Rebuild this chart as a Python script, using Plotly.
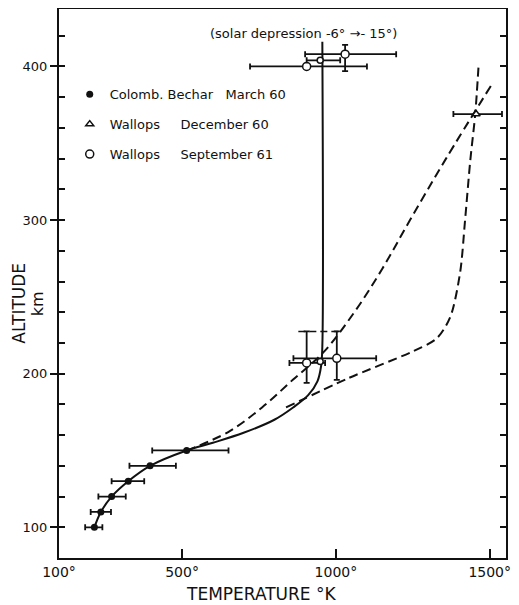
import plotly.graph_objects as go

# ---------------- data ----------------
# Colomb. Bechar, March 60 (filled circles)
cb_alt = [100, 110, 120, 130, 140, 150]
cb_temp = [215, 236, 271, 325, 396, 515]
cb_temp_lo = [185, 203, 228, 271, 329, 403]
cb_temp_hi = [241, 269, 317, 377, 480, 651]

# Wallops, September 61 (open circles)
ws_temp = [905, 1003, 905, 1030]
ws_alt = [207, 210, 400, 408]
ws_temp_lo = [849, 862, 721, 900]
ws_temp_hi = [965, 1131, 1101, 1196]
ws_alt_lo = [194, 196, 400, 397]
ws_alt_hi = [227.5, 227.5, 400, 414]

# small points lying on the model curve
sm_temp = [949, 949]
sm_alt = [208, 404]
sm_temp_lo = [949, 905]
sm_temp_hi = [949, 1014]

# Wallops, December 60 (triangle)
wd_temp = [1456]
wd_alt = [369]
wd_temp_lo = [1382]
wd_temp_hi = [1540]

# dashed link of the upper error caps near 200 km
cap_temp = [878, 1014]
cap_alt = [227.5, 227.5]

# solid model curve (solar depression -6 -> -15)
solid_temp = [215, 236, 271, 325, 396, 515, 600, 700, 800, 861, 910, 940, 952, 956, 956]
solid_alt = [100, 110, 120, 130, 140, 150, 155, 161.5, 170, 178, 186, 195, 205, 218, 416]

# dashed curve A (diagonal)
dashA_temp = [515, 650, 760, 860, 960, 1060, 1150, 1241, 1358, 1509]
dashA_alt = [150, 162, 178, 196, 214, 240, 268, 300, 340, 389]

# dashed curve B (kinked)
dashB_temp = [838, 1040, 1250, 1328, 1372, 1404, 1420, 1437, 1453, 1464]
dashB_alt = [178, 197, 214.5, 223, 237, 266, 300, 339, 369, 401]

x_ticks = [100, 500, 1000, 1500]
x_ticktext = ["100°", "500°", "1000°", "1500°"]
y_ticks = [100, 200, 300, 400]
y_minor = list(range(80, 441, 20))

FONT = "DejaVu Sans"
BLACK = "#111111"


def diff(a, b):
    return [x - y for x, y in zip(a, b)]


fig = go.Figure()

fig.add_trace(go.Scatter(x=solid_temp, y=solid_alt, mode="lines",
                         line=dict(color=BLACK, width=2, shape="spline", smoothing=1.0),
                         showlegend=False, hoverinfo="skip"))
fig.add_trace(go.Scatter(x=dashA_temp, y=dashA_alt, mode="lines",
                         line=dict(color=BLACK, width=2, dash="9px,5px", shape="spline", smoothing=1.0),
                         showlegend=False, hoverinfo="skip"))
fig.add_trace(go.Scatter(x=dashB_temp, y=dashB_alt, mode="lines",
                         line=dict(color=BLACK, width=2, dash="9px,5px", shape="spline", smoothing=0.8),
                         showlegend=False, hoverinfo="skip"))
fig.add_trace(go.Scatter(x=cap_temp, y=cap_alt, mode="lines",
                         line=dict(color=BLACK, width=1.5, dash="7px,4px"),
                         showlegend=False, hoverinfo="skip"))

errstyle = dict(color=BLACK, thickness=1.8, width=3)

fig.add_trace(go.Scatter(
    x=cb_temp, y=cb_alt, mode="markers", name="Colomb. Bechar\u00a0\u00a0\u00a0March 60",
    legendgroup="a",
    marker=dict(symbol="circle", size=7, color=BLACK),
    error_x=dict(type="data", symmetric=False, array=diff(cb_temp_hi, cb_temp),
                 arrayminus=diff(cb_temp, cb_temp_lo), **errstyle)))

fig.add_trace(go.Scatter(
    x=wd_temp, y=wd_alt, mode="markers", name="Wallops\u00a0\u00a0\u00a0\u00a0\u00a0December 60",
    legendgroup="b",
    marker=dict(symbol="triangle-up", size=7, color="white", line=dict(color=BLACK, width=1.5)),
    error_x=dict(type="data", symmetric=False, array=diff(wd_temp_hi, wd_temp),
                 arrayminus=diff(wd_temp, wd_temp_lo), **errstyle)))

fig.add_trace(go.Scatter(
    x=ws_temp, y=ws_alt, mode="markers", name="Wallops\u00a0\u00a0\u00a0\u00a0\u00a0September 61",
    legendgroup="c",
    marker=dict(symbol="circle", size=8, color="white", line=dict(color=BLACK, width=1.5)),
    error_x=dict(type="data", symmetric=False, array=diff(ws_temp_hi, ws_temp),
                 arrayminus=diff(ws_temp, ws_temp_lo), **errstyle),
    error_y=dict(type="data", symmetric=False, array=diff(ws_alt_hi, ws_alt),
                 arrayminus=diff(ws_alt, ws_alt_lo), **errstyle)))

fig.add_trace(go.Scatter(
    x=sm_temp, y=sm_alt, mode="markers", showlegend=False,
    marker=dict(symbol="circle", size=6, color="white", line=dict(color=BLACK, width=1.5)),
    error_x=dict(type="data", symmetric=False, array=diff(sm_temp_hi, sm_temp),
                 arrayminus=diff(sm_temp, sm_temp_lo), **errstyle)))

# invisible trace for the minor-tick overlay axis
fig.add_trace(go.Scatter(x=[None], y=[None], yaxis="y2", showlegend=False, hoverinfo="skip"))

# the page body adds an 8 px margin, so the figure is 8 px smaller than the window
fig.update_layout(
    width=511, height=597,
    margin=dict(l=51, r=13, t=1, b=46.5, autoexpand=False),
    paper_bgcolor="white", plot_bgcolor="white",
    font=dict(family=FONT, color=BLACK, size=14),
    xaxis=dict(range=[100, 1553], tickvals=x_ticks, ticktext=x_ticktext,
               ticks="inside", ticklen=9, tickwidth=1.5, tickcolor=BLACK,
               showline=True, linewidth=2, linecolor=BLACK, mirror=True,
               showgrid=False, zeroline=False, tickfont=dict(size=14), automargin=False),
    yaxis=dict(range=[80, 437.4], tickvals=y_ticks,
               ticks="outside", ticklen=7, tickwidth=1.5, tickcolor=BLACK,
               showline=True, linewidth=2, linecolor=BLACK, mirror=True,
               showgrid=False, zeroline=False, tickfont=dict(size=13), automargin=False),
    yaxis2=dict(range=[80, 437.4], overlaying="y", side="left", tickvals=y_minor,
                ticks="inside", ticklen=6, tickwidth=1.5, tickcolor=BLACK,
                showticklabels=False, showline=False, showgrid=False, zeroline=False,
                mirror="ticks", automargin=False),
    showlegend=True,
    legend=dict(x=0.024, y=0.872, xanchor="left", yanchor="top",
                bgcolor="rgba(0,0,0,0)", borderwidth=0,
                font=dict(family=FONT, size=13, color=BLACK),
                traceorder="grouped", tracegroupgap=10),
    annotations=[
        dict(text="(solar depression -6° →- 15°)", xref="paper", yref="paper",
             x=0.547, y=0.9554, xanchor="center", yanchor="middle",
             showarrow=False, font=dict(size=13)),
        dict(text="TEMPERATURE °K", xref="paper", yref="paper",
             x=0.454, y=-0.0655, xanchor="center", yanchor="middle",
             showarrow=False, font=dict(size=17)),
        dict(text="ALTITUDE", xref="paper", yref="paper", textangle=-90,
             x=-0.0895, y=0.465, xanchor="center", yanchor="middle",
             showarrow=False, font=dict(size=17)),
        dict(text="km", xref="paper", yref="paper", textangle=-90,
             x=-0.048, y=0.463, xanchor="center", yanchor="middle",
             showarrow=False, font=dict(size=16)),
    ],
)

fig.write_html("out.html")
